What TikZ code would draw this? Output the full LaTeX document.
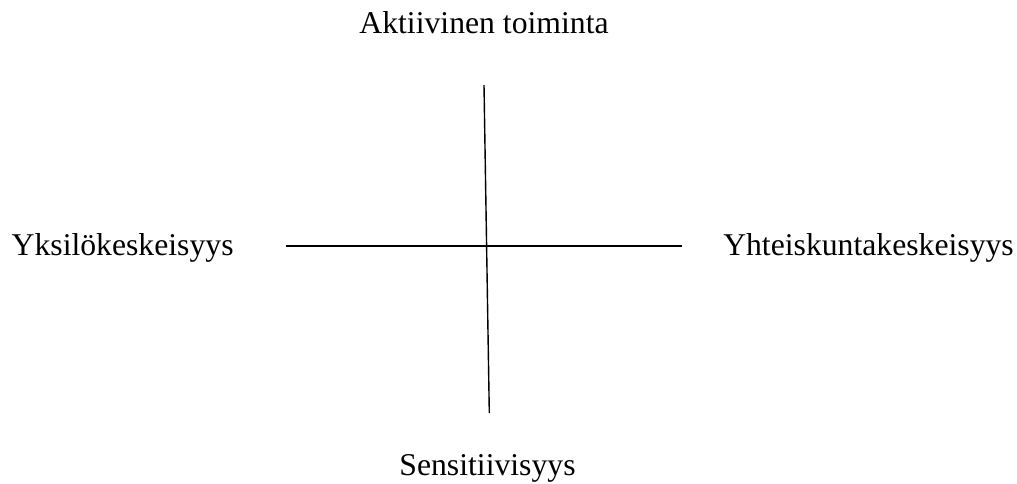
\documentclass[tikz,border=0pt]{standalone}
\usepackage{fontspec}
\setmainfont{Liberation Serif}
\begin{document}
\begin{tikzpicture}[x=1pt,y=-1pt,
  lbl/.style={inner sep=0pt,anchor=base,font=\fontsize{31.7}{38}\selectfont},
  axis/.style={line width=1.6pt,black}]
\useasboundingbox (0,0) rectangle (1017,484);
\node[lbl] (top) at (484,34) {Aktiivinen toiminta};
\node[lbl] (bot) at (487.5,475) {Sensitiivisyys};
\node[lbl,anchor=base west] (left) at (11.5,255) {Yksilökeskeisyys};
\node[lbl,anchor=base east] (right) at (1014,255) {Yhteiskuntakeskeisyys};
\coordinate (vt) at (484,85);
\coordinate (vb) at (489.3,413);
\coordinate (hl) at (286,246);
\coordinate (hr) at (682,246);
\draw[axis,line width=1.4pt] (vt) -- (vb);
\draw[axis] (hl) -- (hr);
\end{tikzpicture}
\end{document}
